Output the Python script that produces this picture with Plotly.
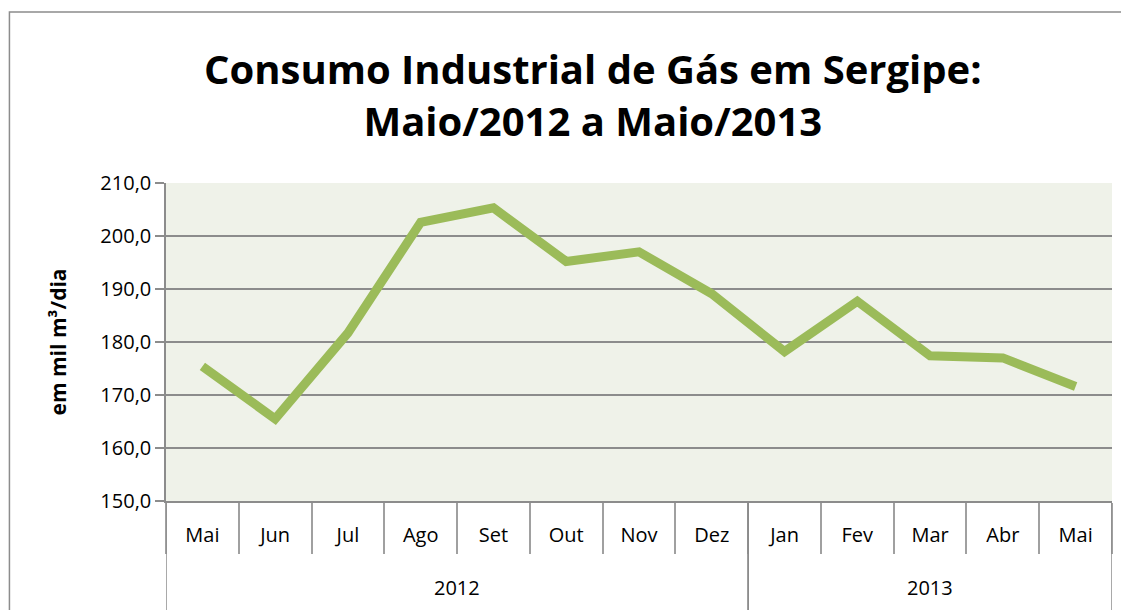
import plotly.graph_objects as go

years = ["2012"] * 8 + ["2013"] * 5
months = ["Mai", "Jun", "Jul", "Ago", "Set", "Out", "Nov", "Dez",
          "Jan", "Fev", "Mar", "Abr", "Mai"]
values = [175.4, 165.5, 181.7, 202.6, 205.3, 195.2, 197.0, 189.1,
          178.2, 187.7, 177.4, 177.0, 171.6]
y_ticks = [150, 160, 170, 180, 190, 200, 210]
y_labels = ["150,0", "160,0", "170,0", "180,0", "190,0", "200,0", "210,0"]

FONT = "Open Sans"
GRAY = "#8C8C8C"

x = list(range(len(months)))
boundaries = [i - 0.5 for i in range(len(months) + 1)]

# year groups
groups = []
for i, yr in enumerate(years):
    if not groups or groups[-1][0] != yr:
        groups.append([yr, i, i])
    else:
        groups[-1][2] = i

fig = go.Figure()
fig.add_trace(go.Scatter(
    x=x, y=values, mode="lines",
    line=dict(color="#9BBB59", width=9),
    showlegend=False, hoverinfo="skip",
))

shapes = [dict(
    type="rect", xref="paper", yref="paper",
    x0=-0.1655, x1=1.1, y0=-0.6, y1=1.538,
    line=dict(color=GRAY, width=1.5), layer="below",
)]
annotations = []
for yr, a, b in groups:
    for xb in (a - 0.5, b + 0.5):
        shapes.append(dict(type="line", xref="x", yref="paper",
                           x0=xb, x1=xb, y0=0, y1=-0.4,
                           line=dict(color=GRAY, width=1.5)))
    annotations.append(dict(text=yr, xref="x", yref="paper",
                            x=(a + b) / 2, y=-0.272, yanchor="middle",
                            showarrow=False, font=dict(size=20, family=FONT)))

fig.update_layout(
    width=1129, height=610,
    margin=dict(l=158, r=25, t=175, b=117, autoexpand=False),
    paper_bgcolor="white", plot_bgcolor="#EFF2E9",
    font=dict(family=FONT, color="#000000"),
    title=dict(
        text="<b>Consumo Industrial de Gás em Sergipe:<br>Maio/2012 a Maio/2013</b>",
        x=0.518, xanchor="center", y=0.876, yanchor="middle",
        font=dict(family=FONT, size=40, color="#000000"),
    ),
    xaxis=dict(
        range=[-0.5, len(months) - 0.5],
        tickvals=x, ticktext=months, ticks="",
        ticklabelstandoff=15,
        minor=dict(tickvals=boundaries, ticks="outside", ticklen=51,
                   tickcolor="#A0A0A0", tickwidth=1.5, showgrid=False),
        showline=True, linecolor=GRAY, linewidth=1.5,
        showgrid=False, zeroline=False, automargin=False,
        tickfont=dict(size=20, family=FONT),
    ),
    yaxis=dict(
        range=[150, 210], tickvals=y_ticks, ticktext=y_labels,
        showgrid=True, gridcolor=GRAY, gridwidth=1.5,
        ticks="outside", ticklen=9, tickcolor=GRAY, tickwidth=1.5,
        showline=True, linecolor=GRAY, linewidth=1.5,
        tickfont=dict(size=20, family=FONT), automargin=False,
        title=dict(text="<b>em mil m³/dia</b>", font=dict(size=21, family=FONT), standoff=28),
        zeroline=False,
    ),
    shapes=shapes,
    annotations=annotations,
)

fig.write_html("out.html")
